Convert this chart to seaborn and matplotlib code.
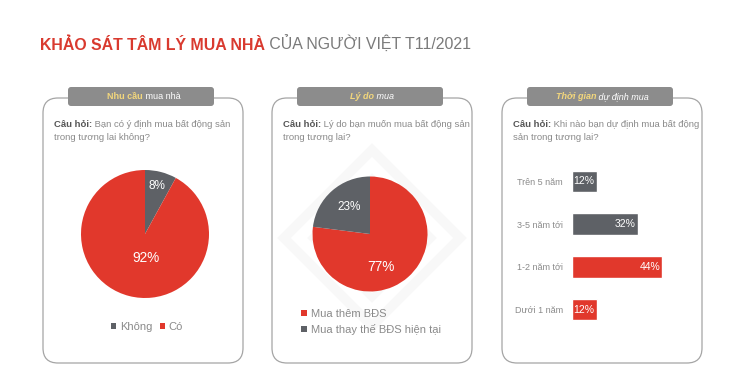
"""Khảo sát tâm lý mua nhà của người Việt T11/2021 - 3 panel: 2 pie + 1 barh."""

import matplotlib
matplotlib.use('Agg')
import seaborn as sns
from matplotlib import pyplot as plt
from matplotlib.patches import FancyBboxPatch, Polygon

# --- data ---
need_labels = ['Không', 'Có']
need_values = [8, 92]

reason_labels = ['Mua thêm BĐS', 'Mua thay thế BĐS hiện tại']
reason_values = [77, 23]

time_cats = ['Trên 5 năm', '3-5 năm tới', '1-2 năm tới', 'Dưới 1 năm']
time_values = [12, 32, 44, 12]

RED = '#E1382C'
GREY = '#5E6166'
TXT = '#8a8a8a'
TAB = '#8c8c8c'
YEL = '#F3D77C'

W, H = 744, 392

sns.set_theme(style='white')
plt.rcParams['font.family'] = ['Liberation Sans', 'DejaVu Sans']


def px(x, y, w, h):
    return [x / W, 1 - (y + h) / H, w / W, h / H]


fig = plt.figure(figsize=(W / 100, H / 100), dpi=100)
bg = fig.add_axes([0, 0, 1, 1])
bg.set_xlim(0, W)
bg.set_ylim(H, 0)
bg.axis('off')


def two_part(ax, x, y, a, b, size, ca, cb, wa='bold', wb='normal', style='normal'):
    t1 = ax.text(x, y, a, fontsize=size, color=ca, weight=wa, style=style, va='center')
    ax.annotate(b, xy=(1, 0), xycoords=t1, va='bottom', ha='left', fontsize=size,
                color=cb, weight=wb, style=style)
    return t1


# title
two_part(bg, 40, 45, 'KHẢO SÁT TÂM LÝ MUA NHÀ', ' CỦA NGƯỜI VIỆT T11/2021', 11.4, '#D93A2F', '#7a7a7a')

# faint watermark behind middle panel
for s, lw in [(88, 7), (60, 5)]:
    bg.add_patch(Polygon([(372, 238 - s), (372 + s, 238), (372, 238 + s), (372 - s, 238)],
                         closed=True, fill=False, ec='#f8f8f8', lw=lw, zorder=1))

panels = [
    (43, ('Nhu cầu', ' mua nhà', 'normal', 107),
     ('Bạn có ý định mua bất động sản', 'trong tương lai không?')),
    (272, ('Lý do', ' mua', 'italic', 350),
     ('Lý do bạn muốn mua bất động sản', 'trong tương lai?')),
    (502, ('Thời gian', ' dự định mua', 'italic', 556),
     ('Khi nào bạn dự định mua bất động', 'sản trong tương lai?')),
]
for x0, (ta, tb, tstyle, tx), (q1, q2) in panels:
    bg.add_patch(FancyBboxPatch((x0, 98), 200, 265, boxstyle='round,pad=0,rounding_size=15',
                                fc='none', ec='#a5a5a5', lw=0.9, zorder=2))
    bg.add_patch(FancyBboxPatch((x0 + 25, 87), 146, 19, boxstyle='round,pad=0,rounding_size=3',
                                fc=TAB, ec='none', zorder=3))
    t = bg.text(tx, 96.5, ta, fontsize=6.5, color=YEL, weight='bold', style=tstyle,
                va='center', zorder=4)
    bg.annotate(tb, xy=(1, 0), xycoords=t, va='bottom', fontsize=6.5, color='white',
                style=tstyle, zorder=4)
    two_part(bg, x0 + 11, 124, 'Câu hỏi:', ' ' + q1, 6.8, '#555555', TXT)
    bg.text(x0 + 11, 137.5, q2, fontsize=6.8, color=TXT, va='center')


def draw_pie(rect, values, colors, label_pos):
    ax = fig.add_axes(px(*rect))
    wedges, _ = ax.pie(values, colors=colors, startangle=90, counterclock=False,
                       wedgeprops=dict(linewidth=0))
    ax.set_xlim(-1, 1)
    ax.set_ylim(-1, 1)
    ax.set_aspect('equal')
    for v, (lx, ly) in zip(values, label_pos):
        ax.text(lx, ly, f'{v}%', color='white', fontsize=9.8 if v > 50 else 8.5,
                ha='center', va='center')
    return ax, wedges


# panel 1 pie
ax1, w1 = draw_pie((81, 170, 128, 128), need_values, [GREY, RED],
                   [(0.19, 0.75), (0.02, -0.37)])
ax1.legend(w1, need_labels, loc='center', bbox_to_anchor=(147 / W, 1 - 327 / H),
           bbox_transform=fig.transFigure, ncol=2, frameon=False, fontsize=8,
           labelcolor=TXT, handlelength=0.5, handleheight=0.5, handletextpad=0.3,
           columnspacing=0.7, borderpad=0, borderaxespad=0)

# panel 2 pie
ax2, w2 = draw_pie((312.5, 176.5, 115, 115), reason_values, [RED, GREY],
                   [(0.19, -0.58), (-0.37, 0.47)])
ax2.legend(w2, reason_labels, loc='upper left', bbox_to_anchor=(301 / W, 1 - 309 / H),
           bbox_transform=fig.transFigure, frameon=False, fontsize=8,
           labelcolor=TXT, handlelength=0.5, handleheight=0.5, handletextpad=0.4,
           labelspacing=0.45, borderpad=0, borderaxespad=0)

# panel 3 bars
ax3 = fig.add_axes(px(572, 160, 102.5, 171))
sns.barplot(x=time_values, y=time_cats, hue=time_cats, palette=[GREY, GREY, RED, RED],
            legend=False, orient='h', width=0.5, saturation=1, ax=ax3)
ax3.set_xlim(0, 50)
ax3.set_ylim(3.5, -0.5)
ax3.set_facecolor('none')
sns.despine(ax=ax3, left=True, bottom=True)
ax3.set_xticks([])
ax3.set_xlabel('')
ax3.set_ylabel('')
ax3.tick_params(axis='y', length=0, pad=6.5, labelsize=6.5, labelcolor=TXT)
for i, v in enumerate(time_values):
    ax3.annotate(f'{v}%', xy=(v, i), xytext=(-1.5, 0), textcoords='offset points',
                 ha='right', va='center', color='white', fontsize=7.5)

fig.savefig('out.png', dpi=100, facecolor='white')
